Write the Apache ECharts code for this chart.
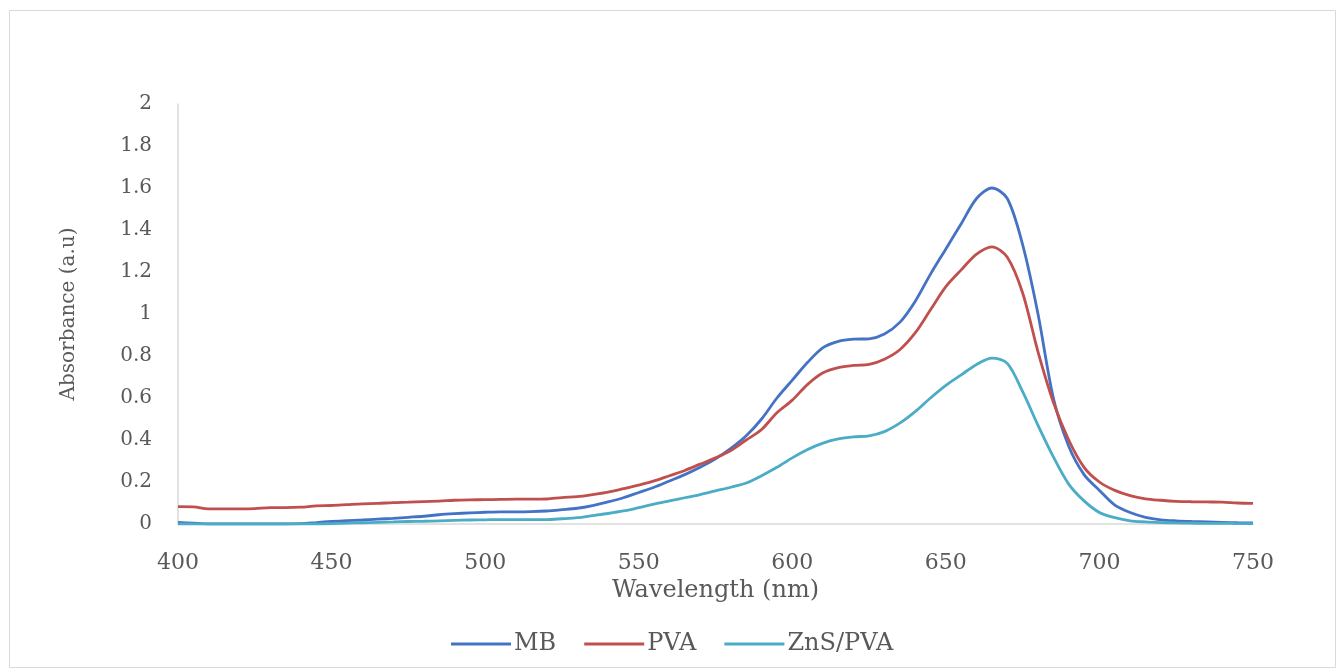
<!DOCTYPE html>
<html>
<head>
<meta charset="utf-8">
<script src="https://cdn.jsdelivr.net/npm/echarts@6/dist/echarts.min.js"></script>
<style>
  html, body { margin: 0; padding: 0; background: #fff; }
  #chart { width: 1338px; height: 670px; }
</style>
</head>
<body>
<div id="chart"></div>
<script>
var wavelengths = [];
for (var w = 400; w <= 750; w += 5) wavelengths.push(w);

var mb = [
  0.008, 0.004, 0.0, 0.0, 0.0, 0.0, 0.0, 0.0, 0.002, 0.007,
  0.012, 0.016, 0.019, 0.023, 0.027, 0.032, 0.037, 0.044, 0.049, 0.053,
  0.056, 0.058, 0.058, 0.059, 0.062, 0.068, 0.075, 0.088, 0.105, 0.125,
  0.15, 0.175, 0.205, 0.235, 0.27, 0.31, 0.36, 0.42, 0.5, 0.6,
  0.685, 0.77, 0.84, 0.87, 0.88, 0.882, 0.905, 0.96, 1.06, 1.19,
  1.31, 1.43, 1.55, 1.6, 1.55, 1.33, 1.0, 0.6, 0.37, 0.235,
  0.16, 0.09, 0.055, 0.032, 0.02, 0.015, 0.012, 0.01, 0.008, 0.006,
  0.005
];

var pva = [
  0.083, 0.082, 0.072, 0.072, 0.072, 0.073, 0.078, 0.078, 0.08, 0.086,
  0.088, 0.092, 0.096, 0.098, 0.102, 0.104, 0.107, 0.109, 0.113, 0.115,
  0.116, 0.117, 0.118, 0.118, 0.119, 0.126, 0.13, 0.14, 0.152, 0.168,
  0.185, 0.205, 0.23, 0.255, 0.285, 0.315, 0.35, 0.4, 0.45, 0.53,
  0.59, 0.665, 0.72, 0.745, 0.755, 0.76, 0.785, 0.83, 0.91, 1.02,
  1.13, 1.21, 1.285, 1.32, 1.27, 1.1, 0.82, 0.58, 0.4, 0.27,
  0.2, 0.16, 0.135, 0.12, 0.113, 0.108, 0.106, 0.105, 0.104, 0.1,
  0.098
];

var znsPva = [
  0.0, 0.0, 0.0, 0.0, 0.0, 0.0, 0.0, 0.0, 0.0, 0.0,
  0.002, 0.004, 0.006, 0.008, 0.01, 0.012, 0.013, 0.015, 0.017, 0.019,
  0.02, 0.021, 0.021, 0.021, 0.021, 0.025, 0.03, 0.04, 0.05, 0.062,
  0.078, 0.095, 0.11, 0.125, 0.14, 0.158, 0.175, 0.195, 0.23, 0.27,
  0.315, 0.355, 0.385, 0.405, 0.415, 0.42, 0.44, 0.48, 0.535, 0.6,
  0.66, 0.71, 0.76, 0.79, 0.765, 0.63, 0.47, 0.32, 0.19, 0.11,
  0.055, 0.03, 0.015, 0.01, 0.007, 0.005, 0.004, 0.003, 0.003, 0.002,
  0.002
];

var seriesNames = ["MB", "PVA", "ZnS/PVA"];
var seriesColors = ["#4472C4", "#C0504D", "#4BACC6"];

function pairs(vals) {
  return wavelengths.map(function (w, i) { return [w, vals[i]]; });
}

var myChart = echarts.init(document.getElementById("chart"));
var font = "DejaVu Serif";
var textColor = "#595959";
var option = {
  backgroundColor: "#fff",
  animation: false,
  graphic: [
    {
      type: "rect",
      shape: { x: 9.5, y: 10.5, width: 1326, height: 657 },
      style: { fill: "none", stroke: "#d9d9d9", lineWidth: 1 }
    }
  ],
  grid: { left: 178, right: 85, top: 104, bottom: 146 },
  legend: {
    data: seriesNames,
    top: 627,
    left: 446,
    itemWidth: 60,
    itemHeight: 14,
    itemGap: 28,
    icon: "path://M0,5.5 L60,5.5 L60,8.5 L0,8.5 Z",
    textStyle: { fontFamily: font, fontSize: 24, color: textColor, padding: [0, 0, 0, -2] }
  },
  xAxis: {
    type: "value",
    min: 400,
    max: 750,
    interval: 50,
    name: "Wavelength (nm)",
    nameLocation: "middle",
    nameGap: 52,
    nameTextStyle: { fontFamily: font, fontSize: 24, color: textColor },
    axisLine: { lineStyle: { color: "#d9d9d9", width: 1.5 } },
    axisTick: { show: false },
    splitLine: { show: false },
    axisLabel: { fontFamily: font, fontSize: 22, color: textColor, margin: 28 }
  },
  yAxis: {
    type: "value",
    min: 0,
    max: 2,
    interval: 0.2,
    name: "Absorbance (a.u)",
    nameLocation: "middle",
    nameGap: 99,
    nameTextStyle: { fontFamily: font, fontSize: 20, color: textColor },
    axisLine: { show: true, lineStyle: { color: "#d9d9d9", width: 1.5 } },
    axisTick: { show: false },
    splitLine: { show: false },
    axisLabel: { fontFamily: font, fontSize: 20, color: textColor, margin: 26 }
  },
  series: [
    { name: seriesNames[0], type: "line", data: pairs(mb), smooth: 0.3, showSymbol: false,
      lineStyle: { width: 2.8, color: seriesColors[0] }, itemStyle: { color: seriesColors[0] } },
    { name: seriesNames[1], type: "line", data: pairs(pva), smooth: 0.3, showSymbol: false,
      lineStyle: { width: 2.8, color: seriesColors[1] }, itemStyle: { color: seriesColors[1] } },
    { name: seriesNames[2], type: "line", data: pairs(znsPva), smooth: 0.3, showSymbol: false,
      lineStyle: { width: 2.8, color: seriesColors[2] }, itemStyle: { color: seriesColors[2] } }
  ]
};
option && myChart.setOption(option);
</script>
</body>
</html>
